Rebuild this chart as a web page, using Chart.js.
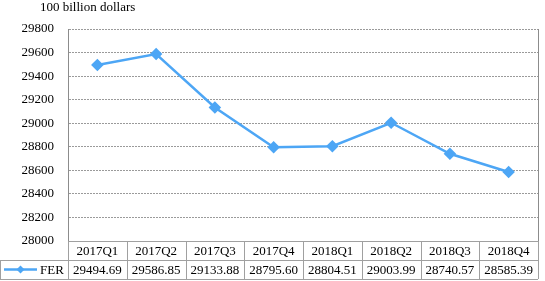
<!DOCTYPE html>
<html>
<head>
<meta charset="utf-8">
<script src="https://cdn.jsdelivr.net/npm/chart.js"></script>
<style>
  html, body { margin: 0; padding: 0; background: #fff; }
  #wrap { width: 545px; height: 281px; position: relative; }
</style>
</head>
<body>
<div id="wrap"><canvas id="c" width="545" height="281"></canvas></div>
<script>
const quarters = ["2017Q1", "2017Q2", "2017Q3", "2017Q4", "2018Q1", "2018Q2", "2018Q3", "2018Q4"];
const ferValues = [29494.69, 29586.85, 29133.88, 28795.60, 28804.51, 29003.99, 28740.57, 28585.39];
const ferLabels = ["29494.69", "29586.85", "29133.88", "28795.60", "28804.51", "29003.99", "28740.57", "28585.39"];
const seriesName = "FER";
const unitText = "100 billion dollars";

const lineColor = "#4da6f5";
const fontFamily = "'Liberation Serif', 'Times New Roman', serif";

// draws the unit label, the plot frame and the data table under the plot
const tablePlugin = {
  id: "dataTable",
  afterDraw(chart) {
    const ctx = chart.ctx;
    const area = chart.chartArea;
    const x = chart.scales.x;
    const n = quarters.length;
    const colW = (area.right - area.left) / n;
    const rowH = 19;
    const top = area.bottom;

    ctx.save();
    ctx.font = "13px " + fontFamily;
    ctx.fillStyle = "#000";
    ctx.textBaseline = "middle";
    ctx.textAlign = "left";
    ctx.fillText(unitText, 40, 8);

    // right frame edge
    ctx.strokeStyle = "#8c8c8c";
    ctx.lineWidth = 1;
    ctx.beginPath();
    ctx.moveTo(Math.round(area.right) + 0.5, area.top);
    ctx.lineTo(Math.round(area.right) + 0.5, top);
    ctx.stroke();

    // table lines
    ctx.strokeStyle = "#a0a0a0";
    ctx.beginPath();
    ctx.moveTo(area.left, Math.round(top) + 0.5);
    ctx.lineTo(area.right, Math.round(top) + 0.5);
    ctx.moveTo(0, Math.round(top + rowH) + 0.5);
    ctx.lineTo(area.right, Math.round(top + rowH) + 0.5);
    ctx.moveTo(0, Math.round(top + 2 * rowH) + 0.5);
    ctx.lineTo(area.right, Math.round(top + 2 * rowH) + 0.5);
    for (let i = 0; i <= n; i++) {
      const vx = Math.round(area.left + i * colW) + 0.5;
      ctx.moveTo(vx, top);
      ctx.lineTo(vx, top + 2 * rowH);
    }
    ctx.moveTo(0.5, top + rowH);
    ctx.lineTo(0.5, top + 2 * rowH);
    ctx.stroke();

    // text
    ctx.fillStyle = "#000";
    ctx.textAlign = "center";
    for (let i = 0; i < n; i++) {
      const cx = x.getPixelForValue(i);
      ctx.fillText(quarters[i], cx, top + rowH / 2 + 1);
      ctx.fillText(ferLabels[i], cx, top + rowH * 1.5 + 1);
    }

    // legend cell
    const ly = top + rowH * 1.5;
    ctx.strokeStyle = lineColor;
    ctx.lineWidth = 2.5;
    ctx.beginPath();
    ctx.moveTo(4, ly);
    ctx.lineTo(37, ly);
    ctx.stroke();
    ctx.fillStyle = lineColor;
    ctx.beginPath();
    ctx.moveTo(20.5, ly - 4);
    ctx.lineTo(24.5, ly);
    ctx.lineTo(20.5, ly + 4);
    ctx.lineTo(16.5, ly);
    ctx.closePath();
    ctx.fill();
    ctx.fillStyle = "#000";
    ctx.textAlign = "left";
    ctx.fillText(seriesName, 40, ly + 1);
    ctx.restore();
  }
};

new Chart(document.getElementById("c"), {
  type: "line",
  data: {
    labels: quarters,
    datasets: [{
      label: seriesName,
      data: ferValues,
      borderColor: lineColor,
      backgroundColor: lineColor,
      borderWidth: 2.5,
      pointStyle: "rectRot",
      pointRadius: 4.5,
      pointHoverRadius: 4.5,
      tension: 0
    }]
  },
  options: {
    responsive: false,
    animation: false,
    layout: { padding: { top: 29, right: 2, bottom: 40, left: 0 } },
    plugins: {
      legend: { display: false },
      title: { display: false },
      tooltip: { enabled: false }
    },
    scales: {
      x: {
        display: false,
        offset: true
      },
      y: {
        min: 28000,
        max: 29800,
        afterFit(scale) { scale.width = 68; },
        ticks: {
          stepSize: 200,
          color: "#000",
          padding: 14,
          font: { family: fontFamily, size: 13 },
          callback: (v) => String(v)
        },
        grid: {
          color: (c) => (c.tick && c.tick.value === 28000 ? "rgba(0,0,0,0)" : "#9a9a9a"),
          drawTicks: false
        },
        border: { display: true, color: "#8c8c8c", dash: [2, 1] }
      }
    }
  },
  plugins: [tablePlugin]
});
</script>
</body>
</html>
